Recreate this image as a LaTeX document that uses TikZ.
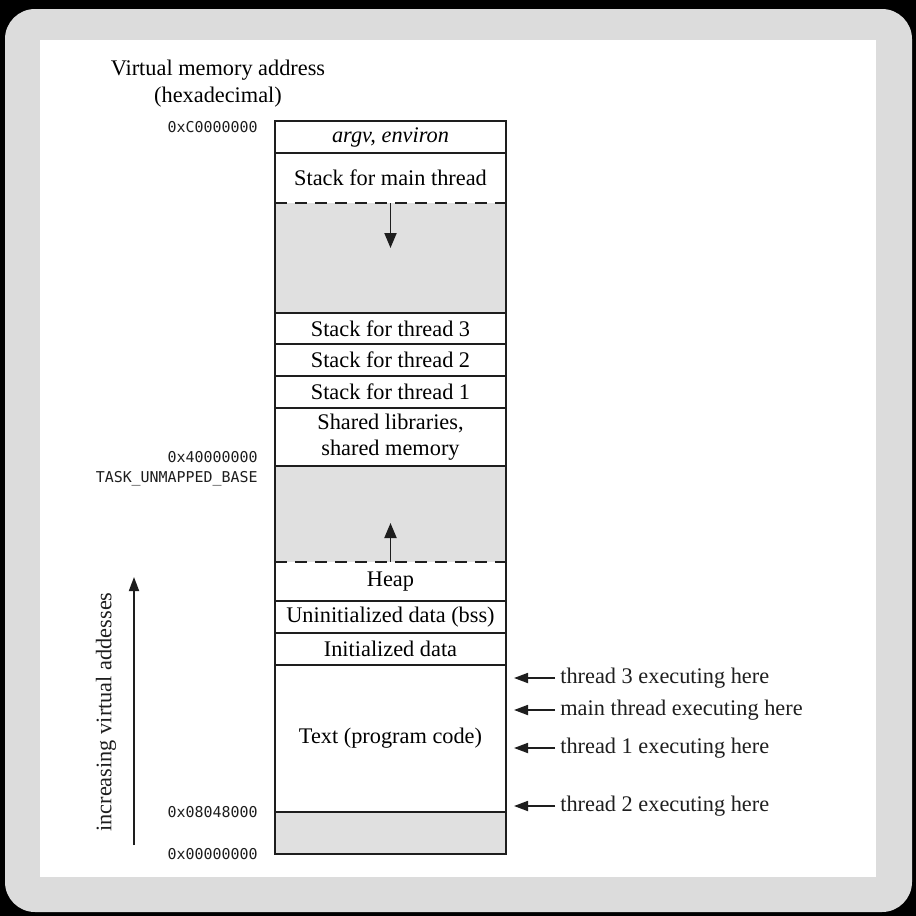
\documentclass[tikz,border=0pt]{standalone}
\usepackage{fontspec}
\setmainfont{Liberation Serif}
\newfontfamily\addrfont{DejaVu Sans Mono}
\usetikzlibrary{arrows.meta, positioning, calc}

\definecolor{framegray}{HTML}{DCDCDC}
\definecolor{gapgray}{HTML}{E0E0E0}
\definecolor{inkblack}{HTML}{1E1E1E}

\begin{document}
\begin{tikzpicture}[
    font=\fontsize{12.7}{15}\selectfont,
    segment/.style={rectangle, fill=white, minimum width=4.62cm, inner sep=0pt, outer sep=0pt, align=center},
    gap/.style={rectangle, fill=gapgray, minimum width=4.62cm, inner sep=0pt, outer sep=0pt},
    wall/.style={draw=inkblack, line width=1.4pt},
    dashline/.style={dash pattern=on 0.24cm off 0.16cm},
    addr/.style={font=\addrfont\fontsize{8.5}{10}\selectfont, inner sep=0pt, text=inkblack},
    ptrlabel/.style={inner sep=0.1cm, text=inkblack},
    ptr/.style={-{Triangle[length=0.28cm, width=0.2cm]}, line width=1pt, draw=inkblack},
    growarrow/.style={-{Triangle[length=0.3cm, width=0.24cm]}, line width=1.1pt, draw=inkblack}
]
    \useasboundingbox (0,0) rectangle (18.32,-18.32);

    % Screen frame
    \fill[black] (0,0) rectangle (18.32,-18.32);
    \fill[framegray, rounded corners=0.6cm] (0.1,-0.18) rectangle (18.24,-18.24);
    \fill[white] (0.8,-0.8) rectangle (17.52,-17.54);

    % Memory column, top to bottom
    \node[segment, minimum height=0.64cm, anchor=north west] (argv) at (5.5,-2.42) {\textit{argv, environ}};
    \node[segment, minimum height=1.0cm, below=0pt of argv] (stkmain) {Stack for main thread};
    \node[gap, minimum height=2.2cm, below=0pt of stkmain] (gapA) {};
    \node[segment, minimum height=0.62cm, below=0pt of gapA] (stk3) {Stack for thread 3};
    \node[segment, minimum height=0.64cm, below=0pt of stk3] (stk2) {Stack for thread 2};
    \node[segment, minimum height=0.64cm, below=0pt of stk2] (stk1) {Stack for thread 1};
    \node[segment, minimum height=1.16cm, below=0pt of stk1] (shlib) {Shared libraries,\\shared memory};
    \node[gap, minimum height=1.92cm, below=0pt of shlib] (gapB) {};
    \node[segment, minimum height=0.78cm, below=0pt of gapB] (heap) {Heap};
    \node[segment, minimum height=0.64cm, below=0pt of heap] (bss) {Uninitialized data (bss)};
    \node[segment, minimum height=0.64cm, below=0pt of bss] (init) {Initialized data};
    \node[segment, minimum height=2.94cm, below=0pt of init] (text) {Text (program code)};
    \node[gap, minimum height=0.84cm, below=0pt of text] (low) {};

    % Dividers and outline
    \foreach \seg in {argv, gapA, stk3, stk2, stk1, shlib, heap, bss, init, text}
        \draw[wall] (\seg.south west) -- (\seg.south east);
    \foreach \seg in {stkmain, gapB}
        \draw[wall, dashline] (\seg.south west) -- (\seg.south east);
    \draw[wall] (argv.north west) rectangle (low.south east);

    % Growth arrows
    \coordinate (growdown) at ($(gapA.north)+(0,-0.9)$);
    \coordinate (growup) at ($(gapB.south)+(0,0.78)$);
    \draw[growarrow] (gapA.north) -- (growdown);
    \draw[growarrow] (gapB.south) -- (growup);

    % Addresses
    \node[align=center] (heading) at (4.36,-1.67) {Virtual memory address\\(hexadecimal)};
    \node[addr, left=0.34cm of argv.north west, yshift=-0.12cm] (topaddr) {0xC0000000};
    \node[addr, left=0.34cm of shlib.south west, yshift=0.18cm] (mapaddr) {0x40000000};
    \node[addr, left=0.34cm of shlib.south west, yshift=-0.26cm] (mapbase) {TASK\_UNMAPPED\_BASE};
    \node[addr, left=0.34cm of text.south west] (textaddr) {0x08048000};
    \node[addr, left=0.34cm of low.south west] (zeroaddr) {0x00000000};

    % Increasing addresses
    \coordinate (incbot) at (2.68,-16.9);
    \coordinate (inctop) at (2.68,-11.54);
    \draw[ptr] (incbot) -- (inctop);
    \node[rotate=90, text=inkblack] (incr) at (2.12,-14.24) {increasing virtual addesses};

    % Thread pointers
    \coordinate (tipline) at ($(text.north east)+(0.16,0)$);
    \node[ptrlabel, right=0.98cm of text.north east, yshift=-0.26cm] (t3run) {thread 3 executing here};
    \node[ptrlabel, right=0.98cm of text.north east, yshift=-0.9cm] (mainrun) {main thread executing here};
    \node[ptrlabel, right=0.98cm of text.north east, yshift=-1.66cm] (t1run) {thread 1 executing here};
    \node[ptrlabel, right=0.98cm of text.north east, yshift=-2.82cm] (t2run) {thread 2 executing here};
    \foreach \run in {t3run, mainrun, t1run, t2run}
        \draw[ptr] (\run.west) -- (\run.west -| tipline);

\end{tikzpicture}
\end{document}
